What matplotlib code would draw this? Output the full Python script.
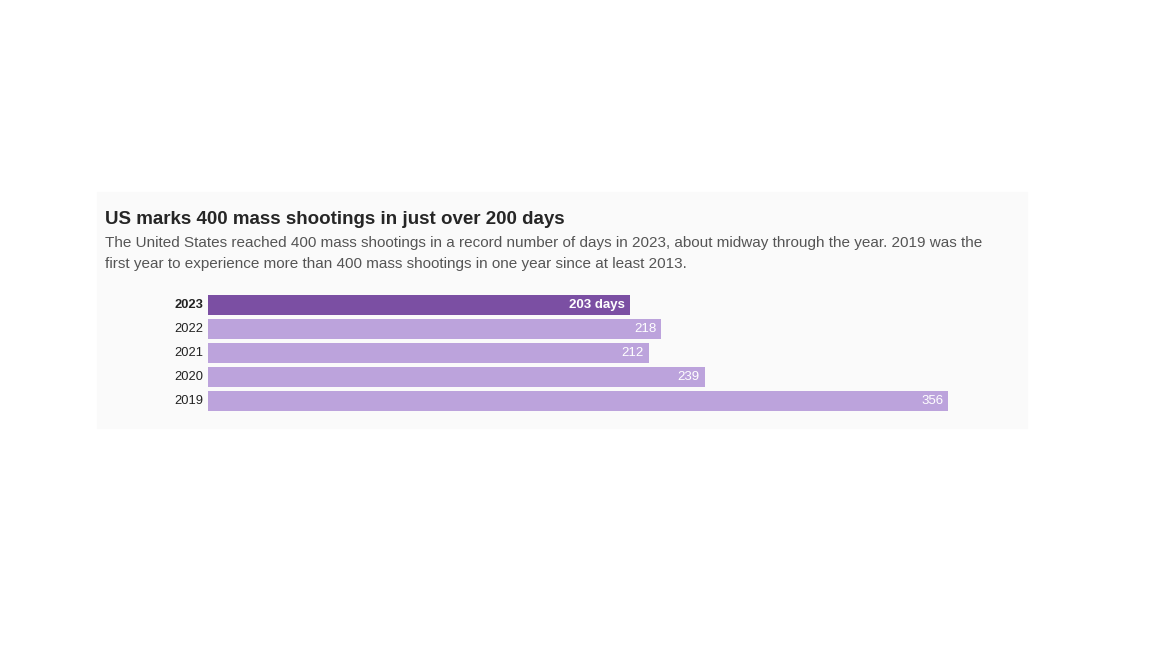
import matplotlib.pyplot as plt
from matplotlib.patches import Rectangle

plt.rcParams['font.family'] = ['Liberation Sans', 'DejaVu Sans']

years = ['2023', '2022', '2021', '2020', '2019']
days = [203, 218, 212, 239, 356]
labels = ['203 days', '218', '212', '239', '356']

W, H = 1152, 648
fig = plt.figure(figsize=(11.52, 6.48), dpi=100)

# light panel behind the chart
fig.patches.append(Rectangle((97 / W, 1 - 428 / H), 930 / W, 236 / H,
                             transform=fig.transFigure, color='#fafafa', zorder=-5))

fig.text(105 / W, 1 - 224 / H, 'US marks 400 mass shootings in just over 200 days',
         fontsize=13.5, fontweight='bold', color='#262626', va='baseline')
fig.text(105 / W, 1 - 247 / H,
         'The United States reached 400 mass shootings in a record number of days in 2023, '
         'about midway through the year. 2019 was the',
         fontsize=10.98, color='#555555', va='baseline')
fig.text(105 / W, 1 - 268 / H,
         'first year to experience more than 400 mass shootings in one year since at least 2013.',
         fontsize=10.98, color='#555555', va='baseline')

# axes placed in pixels: left 208, width 808, top 293, height 120
ax = fig.add_axes([208 / W, 1 - 413 / H, 808 / W, 120 / H])
ax.set_zorder(2)
ax.set_facecolor('none')
colors = ['#7b4fa3'] + ['#bca3dc'] * 4
ax.barh(range(len(years)), days, height=20 / 24, color=colors)
ax.set_ylim(len(years) - 0.5, -0.5)
ax.set_xlim(0, 808 / 2.079)

for i, (y, v, lab) in enumerate(zip(years, days, labels)):
    bold = 'bold' if i == 0 else 'normal'
    ax.text(-5 / 2.079, i, y, ha='right', va='center', fontsize=9.3,
            fontweight=bold, color='#222222')
    ax.text(v - 5 / 2.079, i, lab, ha='right', va='center', fontsize=9.5,
            fontweight=bold, color='white')

ax.set_xticks([])
ax.set_yticks([])
for s in ax.spines.values():
    s.set_visible(False)

fig.savefig('out.png', dpi=100, facecolor='white')
